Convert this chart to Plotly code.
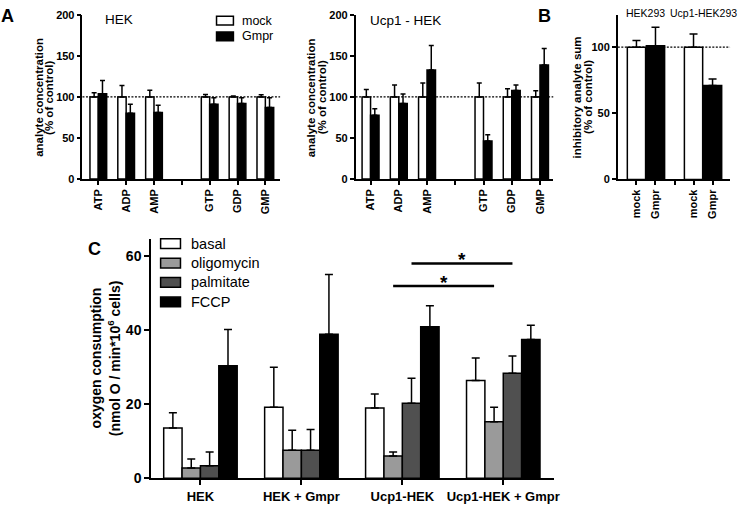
import plotly.graph_objects as go

W, H = 743, 509
FONT = "Liberation Sans, Arial, Helvetica, sans-serif"

# ---------------- data ----------------
# Panel A (nucleotides, % of control); None = empty gap slot
cats_A = ["ATP", "ADP", "AMP", "", "GTP", "GDP", "GMP"]
hek_mock = [100, 100, 100, None, 100, 100, 100]
hek_mock_err = [5, 14, 8, None, 3, 1, 2.5]
hek_gmpr = [104, 80, 81, None, 91, 92, 87]
hek_gmpr_err = [16, 11, 9, None, 8, 7, 12]

ucp_mock = [100, 100, 100, None, 100, 100, 100]
ucp_mock_err = [9, 14.6, 17, None, 17, 10, 7.5]
ucp_gmpr = [77.7, 92, 132.7, None, 46.5, 107.9, 139]
ucp_gmpr_err = [8, 11.5, 30, None, 7.5, 6.7, 20]

# Panel B (inhibitory analyte sum)
cats_B = ["mock", "Gmpr", "", "mock", "Gmpr"]
vals_B = [100, 101, None, 100, 71]
err_B = [5, 14, None, 10, 5]
groups_B = ["HEK293", "Ucp1-HEK293"]

# Panel C (oxygen consumption)
cats_C = ["HEK", "HEK + Gmpr", "Ucp1-HEK", "Ucp1-HEK + Gmpr"]
series_C = ["basal", "oligomycin", "palmitate", "FCCP"]
vals_C = {
    "basal": [13.6, 19.2, 19.0, 26.4],
    "oligomycin": [2.8, 7.6, 6.0, 15.3],
    "palmitate": [3.4, 7.6, 20.3, 28.4],
    "FCCP": [30.4, 38.9, 40.9, 37.5],
}
errs_C = {
    "basal": [4.1, 10.8, 3.8, 6.1],
    "oligomycin": [2.4, 5.4, 1.1, 3.9],
    "palmitate": [3.7, 5.6, 6.7, 4.6],
    "FCCP": [9.8, 16.1, 5.7, 3.8],
}
colors_C = {"basal": "white", "oligomycin": "#9a9a9a", "palmitate": "#505050", "FCCP": "black"}

# ---------------- helpers ----------------
def px(x):
    return x / W


def py(y):
    return 1 - y / H


LW = 1.5
fig = go.Figure()


def err(arr, w):
    return dict(type="data", symmetric=False, array=arr,
                arrayminus=[0 if a is not None else None for a in arr],
                color="black", thickness=LW, width=w, visible=True)


# Panel A bars
wA = 0.3
for (xa, ya), mock, merr, gm, gerr in [
    (("x", "y"), hek_mock, hek_mock_err, hek_gmpr, hek_gmpr_err),
    (("x2", "y2"), ucp_mock, ucp_mock_err, ucp_gmpr, ucp_gmpr_err),
]:
    xs = list(range(len(cats_A)))
    fig.add_bar(x=xs, y=mock, width=wA, offset=-wA, xaxis=xa, yaxis=ya,
                marker=dict(color="white", line=dict(color="black", width=LW)),
                error_y=err(merr, 2.5), showlegend=False)
    fig.add_bar(x=xs, y=gm, width=wA, offset=0, xaxis=xa, yaxis=ya,
                marker=dict(color="black", line=dict(color="black", width=LW)),
                error_y=err(gerr, 2.5), showlegend=False)

# Panel B bars
colB = ["white" if c == "mock" else "black" for c in cats_B]
fig.add_bar(x=list(range(len(cats_B))), y=vals_B, width=0.96, xaxis="x3", yaxis="y3",
            marker=dict(color=colB, line=dict(color="black", width=LW)),
            error_y=err(err_B, 4), showlegend=False)

# Panel C bars
wC = 0.182
nC = len(series_C)
offs_C = {s: (i - nC / 2) * wC for i, s in enumerate(series_C)}
for s in series_C:
    fig.add_bar(x=list(range(len(cats_C))), y=vals_C[s], width=wC, offset=offs_C[s],
                xaxis="x4", yaxis="y4", name=s,
                marker=dict(color=colors_C[s], line=dict(color="black", width=LW)),
                error_y=err(errs_C[s], 4), showlegend=False)

# ---------------- axes ----------------
def axstyle(**kw):
    d = dict(showline=True, linecolor="black", linewidth=LW, ticks="outside",
             ticklen=4, tickwidth=LW, tickcolor="black", showgrid=False,
             zeroline=False, fixedrange=True)
    d.update(kw)
    return d


bold11 = dict(family=FONT, size=11, color="black", weight="bold")
bold13 = dict(family=FONT, size=13, color="black", weight="bold")
bold14 = dict(family=FONT, size=14, color="black", weight="bold")

yA_dom = [py(178), py(9)]
fig.update_layout(
    xaxis=axstyle(domain=[px(83), px(282)], range=[-0.57, 6.53], tickmode="array",
                  tickvals=list(range(len(cats_A))), ticktext=cats_A, tickangle=-90,
                  tickfont=bold11, anchor="y"),
    yaxis=axstyle(domain=yA_dom, range=[0, 200], tickvals=[0, 50, 100, 150, 200],
                  tickfont=bold11, anchor="x"),
    xaxis2=axstyle(domain=[px(358), px(557)], range=[-0.53, 6.47], tickmode="array",
                   tickvals=list(range(len(cats_A))), ticktext=cats_A, tickangle=-90,
                   tickfont=bold11, anchor="y2"),
    yaxis2=axstyle(domain=yA_dom, range=[0, 200], tickvals=[0, 50, 100, 150, 200],
                   tickfont=bold11, anchor="x2"),
    xaxis3=axstyle(domain=[px(622), px(735)], range=[-0.98, 4.92], tickmode="array",
                   tickvals=list(range(len(cats_B))), ticktext=cats_B, tickangle=-90,
                   tickfont=bold11, anchor="y3"),
    yaxis3=axstyle(domain=[py(178.3), py(9)], range=[0, 124.5], tickvals=[0, 50, 100],
                   tickfont=bold11, anchor="x3"),
    xaxis4=axstyle(domain=[px(152), px(558)], range=[-0.49, 3.505], tickmode="array",
                   tickvals=list(range(len(cats_C))), ticktext=cats_C, ticklen=5,
                   tickfont=bold13, anchor="y4"),
    yaxis4=axstyle(domain=[py(485.7), py(240)], range=[0, 64.5], tickvals=[0, 20, 40, 60],
                   ticklen=5, tickfont=bold14, anchor="x4"),
    barmode="overlay",
    width=W, height=H,
    margin=dict(l=0, r=0, t=0, b=0),
    paper_bgcolor="white", plot_bgcolor="white",
    font=dict(family=FONT, color="black"),
    showlegend=False,
)

shapes = []
annos = []

# dotted 100% reference lines
for xr, yr in [("x", "y"), ("x2", "y2"), ("x3", "y3")]:
    shapes.append(dict(type="line", xref=f"{xr} domain", yref=yr, x0=0, x1=1, y0=100, y1=100,
                       line=dict(color="black", width=1.2, dash="2px,1.5px"), layer="below"))

# significance bars in C (between Ucp1-HEK and Ucp1-HEK + Gmpr)
sig = [("palmitate", 58.0), ("oligomycin", 51.9)]
for s, yv in sig:
    xa = 2 + offs_C[s] + wC / 2
    xb = 3 + offs_C[s] + wC / 2
    shapes.append(dict(type="line", xref="x4", yref="y4", x0=xa, x1=xb, y0=yv, y1=yv,
                       line=dict(color="black", width=2.5)))
    annos.append(dict(x=(xa + xb) / 2, y=yv, xref="x4", yref="y4", text="*", showarrow=False,
                      font=dict(family=FONT, size=19, color="black", weight="bold"),
                      yanchor="middle", yshift=4))

# Panel A legend
for i, (lab, col) in enumerate([("mock", "white"), ("Gmpr", "black")]):
    yc = 15 + i * 16.2
    shapes.append(dict(type="rect", xref="paper", yref="paper", x0=px(218), x1=px(235),
                       y0=py(yc + 4.5), y1=py(yc - 4.5), fillcolor=col,
                       line=dict(color="black", width=LW)))
    annos.append(dict(x=px(242), y=py(yc), xref="paper", yref="paper", text=lab,
                      showarrow=False, xanchor="left", yanchor="middle",
                      font=dict(family=FONT, size=12.5, color="black")))

# Panel C legend
for i, s in enumerate(series_C):
    yc = 244.3 + i * 20
    shapes.append(dict(type="rect", xref="paper", yref="paper", x0=px(161.7), x1=px(181.7),
                       y0=py(yc + 5), y1=py(yc - 5), fillcolor=colors_C[s],
                       line=dict(color="black", width=LW)))
    annos.append(dict(x=px(190), y=py(yc), xref="paper", yref="paper", text=s,
                      showarrow=False, xanchor="left", yanchor="middle",
                      font=dict(family=FONT, size=14.5, color="black")))

# Panel titles
annos.append(dict(x=px(104), y=py(13.5), xref="paper", yref="paper", text="HEK", showarrow=False,
                  xanchor="left", yanchor="middle", font=dict(family=FONT, size=13.5, color="black")))
annos.append(dict(x=px(370), y=py(15), xref="paper", yref="paper", text="Ucp1 - HEK", showarrow=False,
                  xanchor="left", yanchor="middle", font=dict(family=FONT, size=13.5, color="black")))
for gi, g in enumerate(groups_B):
    annos.append(dict(x=gi * 3 + 0.5, y=py(7.5), xref="x3", yref="paper", text=g, showarrow=False,
                      xanchor="center", yanchor="middle", font=dict(family=FONT, size=10.5, color="black")))

# Panel letters
for lab, xx, yy in [("A", 8, 10.5), ("B", 548, 10.5), ("C", 95, 250)]:
    annos.append(dict(x=px(xx), y=py(yy), xref="paper", yref="paper", text=lab, showarrow=False,
                      xanchor="center", yanchor="middle",
                      font=dict(family=FONT, size=18, color="black", weight="bold")))

# Y axis titles
ytitles = [
    (39.7, 49.8, 94, "analyte concentration", "(% of control)", 11.5),
    (314, 325, 94, "analyte concentration", "(% of control)", 11.5),
    (581, 592.5, 94, "inhibitory analyte sum", "(% of control)", 11.5),
    (97, 115, 362, "oxygen consumption", "(nmol O / min*10<sup>6</sup> cells)", 14),
]
for x1, x2, yc, t1, t2, fs in ytitles:
    for xx, t in [(x1, t1), (x2, t2)]:
        annos.append(dict(x=px(xx), y=py(yc), xref="paper", yref="paper", text=t, showarrow=False,
                          textangle=-90, xanchor="center", yanchor="middle",
                          font=dict(family=FONT, size=fs, color="black", weight="bold")))

fig.update_layout(shapes=shapes, annotations=annos)
fig.write_html(
    "out.html",
    config={"displayModeBar": False},
    post_script="document.body.style.margin='0';document.body.style.padding='0';"
                "document.body.style.overflow='hidden';",
)
